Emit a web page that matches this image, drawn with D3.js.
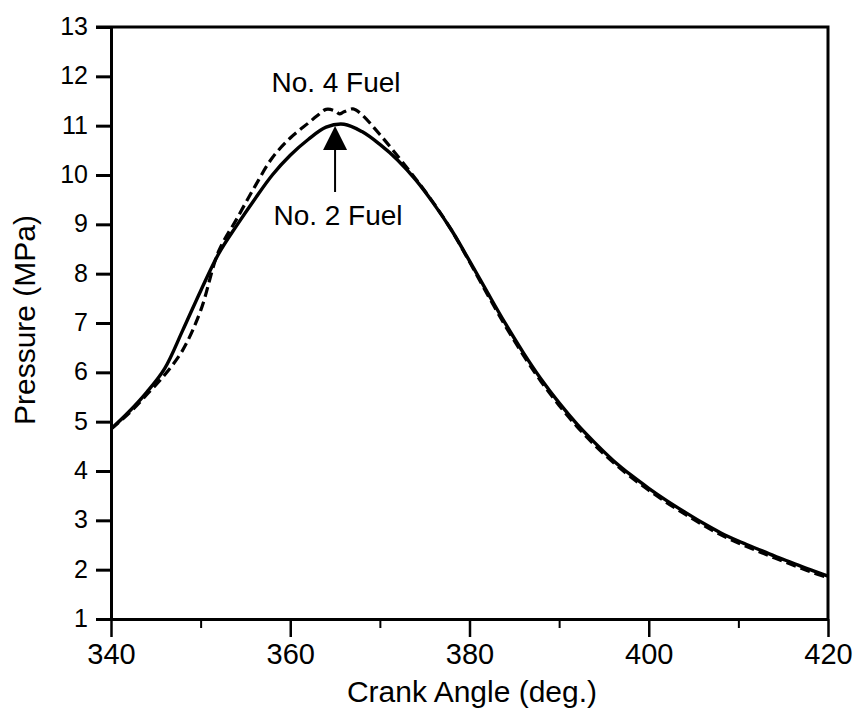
<!DOCTYPE html>
<html>
<head>
<meta charset="utf-8">
<script src="https://cdn.jsdelivr.net/npm/d3@7"></script>
<style>
  body { margin: 0; background: #fff; }
  text { font-family: "Liberation Sans", Arial, Helvetica, sans-serif; fill: #000; }
</style>
</head>
<body>
<div id="chart"></div>
<script>
// crank angle (deg.) and cylinder pressure (MPa)
var no2Angles = [340, 342, 344, 346, 348, 350, 352, 354, 356, 358, 360, 362, 364, 366, 368, 370,
    372, 374, 376, 378, 380, 382, 384, 386, 388, 390, 392, 394, 396, 398, 400,
    402, 404, 406, 408, 410, 412, 414, 416, 418, 420];
var no2Pressure = [4.85, 5.2, 5.6, 6.08, 6.85, 7.65, 8.4, 8.97, 9.5, 10.0, 10.4, 10.72, 10.97, 11.03, 10.88, 10.62,
    10.3, 9.9, 9.42, 8.88, 8.26, 7.62, 6.99, 6.4, 5.86, 5.38, 4.95, 4.57, 4.22, 3.92, 3.65,
    3.4, 3.17, 2.95, 2.75, 2.58, 2.43, 2.28, 2.14, 2.0, 1.87];

var no4Angles = [340, 342, 344, 346, 348, 350, 352, 354, 356, 358, 360, 362, 363, 364, 365, 365.5, 366, 367, 368,
    370, 372, 374, 376, 378, 380, 382, 384, 386, 388, 390, 392, 394, 396, 398, 400,
    402, 404, 406, 408, 410, 412, 414, 416, 418, 420];
var no4Pressure = [4.85, 5.17, 5.55, 5.95, 6.45, 7.25, 8.45, 9.1, 9.75, 10.35, 10.75, 11.05, 11.2, 11.33, 11.3, 11.24, 11.28, 11.34, 11.22,
    10.82, 10.38, 9.92, 9.43, 8.88, 8.24, 7.58, 6.94, 6.35, 5.81, 5.33, 4.9, 4.52, 4.18, 3.88, 3.61,
    3.36, 3.13, 2.91, 2.71, 2.54, 2.39, 2.24, 2.1, 1.96, 1.84];

var xTicks = [340, 360, 380, 400, 420];
var xMinorTicks = [350, 370, 390, 410];
var yTicks = [1, 2, 3, 4, 5, 6, 7, 8, 9, 10, 11, 12, 13];

var width = 857, height = 719;
var plotLeft = 111, plotRight = 828, plotTop = 27, plotBottom = 619;

var svg = d3.select('#chart').append('svg')
    .attr('width', width)
    .attr('height', height);

var x = d3.scaleLinear().domain([340, 420]).range([plotLeft, plotRight]);
var y = d3.scaleLinear().domain([1, 13]).range([plotBottom, plotTop]);

// frame: top and right edges
svg.append('path')
    .attr('d', 'M' + (plotLeft - 15) + ',' + plotTop + 'H' + plotRight + 'V' + plotBottom)
    .attr('fill', 'none')
    .attr('stroke', '#000')
    .attr('stroke-width', 3);

// y axis
var yAxis = svg.append('g')
    .attr('transform', 'translate(' + plotLeft + ',0)')
    .call(d3.axisLeft(y).tickValues(yTicks).tickSize(15).tickPadding(8).tickSizeOuter(0));
yAxis.select('.domain').attr('stroke-width', 3);
yAxis.selectAll('.tick line').attr('stroke-width', 3);
yAxis.selectAll('.tick text')
    .style('font-size', '25px')
    .attr('dy', '0.3em');

// x axis, major then minor ticks
var xAxis = svg.append('g')
    .attr('transform', 'translate(0,' + plotBottom + ')')
    .call(d3.axisBottom(x).tickValues(xTicks).tickSize(18).tickPadding(6).tickSizeOuter(0));
xAxis.select('.domain').attr('stroke-width', 3);
xAxis.selectAll('.tick line').attr('stroke-width', 2.5);
xAxis.selectAll('.tick text')
    .style('font-size', '29px');

svg.append('g')
    .attr('transform', 'translate(0,' + plotBottom + ')')
    .call(d3.axisBottom(x).tickValues(xMinorTicks).tickSize(9).tickFormat('').tickSizeOuter(0))
    .call(function (g) { g.select('.domain').remove(); })
    .selectAll('.tick line').attr('stroke-width', 2);

// axis titles
svg.append('text')
    .attr('x', 472)
    .attr('y', 702)
    .attr('text-anchor', 'middle')
    .style('font-size', '30px')
    .text('Crank Angle (deg.)');

svg.append('text')
    .attr('transform', 'translate(35,320) rotate(-90)')
    .attr('text-anchor', 'middle')
    .style('font-size', '30px')
    .text('Pressure (MPa)');

// curves
var line = d3.line()
    .x(function (d) { return x(d[0]); })
    .y(function (d) { return y(d[1]); })
    .curve(d3.curveCatmullRom.alpha(0.5));

var no2 = d3.zip(no2Angles, no2Pressure);
var no4 = d3.zip(no4Angles, no4Pressure);

svg.append('path')
    .attr('fill', 'none')
    .attr('stroke', '#000')
    .attr('stroke-width', 3.2)
    .attr('d', line(no4))
    .attr('stroke-dasharray', '10,5');

svg.append('path')
    .attr('fill', 'none')
    .attr('stroke', '#000')
    .attr('stroke-width', 3.4)
    .attr('d', line(no2));

// labels and arrow
svg.append('text')
    .attr('x', 336)
    .attr('y', 92)
    .attr('text-anchor', 'middle')
    .style('font-size', '28px')
    .text('No. 4 Fuel');

svg.append('text')
    .attr('x', 338)
    .attr('y', 225)
    .attr('text-anchor', 'middle')
    .style('font-size', '28px')
    .text('No. 2 Fuel');

var ax = x(365);
svg.append('line')
    .attr('x1', ax).attr('x2', ax)
    .attr('y1', 192).attr('y2', 148)
    .attr('stroke', '#000')
    .attr('stroke-width', 2);
svg.append('path')
    .attr('d', 'M' + ax + ',126L' + (ax + 12) + ',150L' + (ax - 12) + ',150Z')
    .attr('fill', '#000');
</script>
</body>
</html>
